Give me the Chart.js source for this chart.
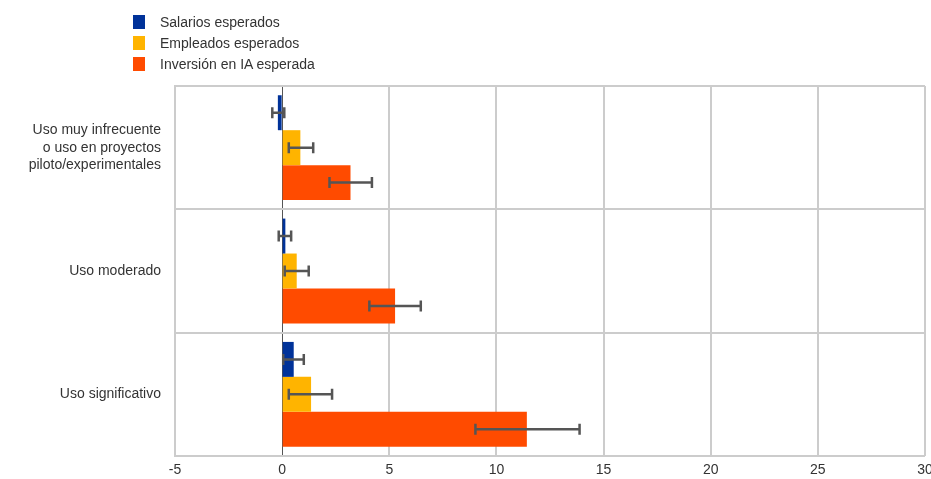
<!DOCTYPE html>
<html>
<head>
<meta charset="utf-8">
<script src="https://cdn.jsdelivr.net/npm/chart.js@4/dist/chart.umd.min.js"></script>
<style>
    body { margin: 0; background: #fff; font-family: "Liberation Sans", Arial, sans-serif; }
    #wrap { position: relative; width: 931px; height: 479px; }
    #legend { position: absolute; left: 133px; top: 12px; font-size: 14px; color: #333; }
    .item { height: 21px; line-height: 21px; white-space: nowrap; }
    .box { display: inline-block; width: 12px; height: 14px; vertical-align: -2px; margin-right: 15px; }
</style>
</head>
<body>
<div id="wrap">
    <canvas id="chart" width="931" height="479"></canvas>
    <div id="legend"></div>
</div>
<script>
// Categories and series
const categories = [
    ['Uso muy infrecuente', 'o uso en proyectos', 'piloto/experimentales'],
    'Uso moderado',
    'Uso significativo'
];
const seriesNames = ['Salarios esperados', 'Empleados esperados', 'Inversión en IA esperada'];
const seriesColors = ['#003299', '#FFB400', '#FF4B00'];

const salarios = [-0.2, 0.15, 0.54];
const empleados = [0.85, 0.68, 1.35];
const inversion = [3.19, 5.27, 11.42];

// Error bar centres and half widths
const salariosErrCenter = [-0.18, 0.13, 0.53];
const salariosErr = [0.28, 0.29, 0.48];
const empleadosErrCenter = [0.88, 0.68, 1.32];
const empleadosErr = [0.57, 0.56, 1.01];
const inversionErrCenter = [3.2, 5.27, 11.45];
const inversionErr = [0.99, 1.2, 2.43];

const xTicks = [-5, 0, 5, 10, 15, 20, 25, 30];

const seriesValues = [salarios, empleados, inversion];
const errCenters = [salariosErrCenter, empleadosErrCenter, inversionErrCenter];
const errHalf = [salariosErr, empleadosErr, inversionErr];

// Legend
const legendEl = document.getElementById('legend');
seriesNames.forEach((name, i) => {
    const row = document.createElement('div');
    row.className = 'item';
    row.innerHTML = '<span class="box" style="background:' + seriesColors[i] + '"></span>' + name;
    legendEl.appendChild(row);
});

// Error bars plugin
const errorBars = {
    id: 'errorBars',
    afterDatasetsDraw(chart) {
        const ctx = chart.ctx;
        const xScale = chart.scales.x;
        ctx.save();
        ctx.strokeStyle = '#555';
        ctx.lineWidth = 2.5;
        chart.data.datasets.forEach((ds, di) => {
            const meta = chart.getDatasetMeta(di);
            meta.data.forEach((bar, i) => {
                const c = errCenters[di][i];
                const h = errHalf[di][i];
                const x1 = xScale.getPixelForValue(c - h);
                const x2 = xScale.getPixelForValue(c + h);
                const y = bar.y;
                ctx.beginPath();
                ctx.moveTo(x1, y); ctx.lineTo(x2, y);
                ctx.moveTo(x1, y - 5.5); ctx.lineTo(x1, y + 5.5);
                ctx.moveTo(x2, y - 5.5); ctx.lineTo(x2, y + 5.5);
                ctx.stroke();
            });
        });
        ctx.restore();
    }
};

const ctx = document.getElementById('chart').getContext('2d');

new Chart(ctx, {
    type: 'bar',
    data: {
        labels: categories,
        datasets: seriesNames.map((name, i) => ({
            label: name,
            data: seriesValues[i],
            backgroundColor: seriesColors[i],
            borderWidth: 0,
            categoryPercentage: 0.85,
            barPercentage: 1.0
        }))
    },
    plugins: [errorBars],
    options: {
        indexAxis: 'y',
        responsive: false,
        animation: false,
        layout: { padding: { top: 86, right: 6, left: 0, bottom: 0 } },
        plugins: {
            legend: { display: false },
            tooltip: { enabled: false }
        },
        scales: {
            x: {
                min: -5,
                max: 30,
                afterBuildTicks: function(scale) {
                    scale.ticks = xTicks.map(v => ({ value: v }));
                },
                afterFit: function(scale) {
                    scale.height = 23;
                    scale.paddingRight = 0;
                    scale.paddingLeft = 0;
                },
                grid: {
                    color: c => (c.tick && c.tick.value === 0) ? '#555' : '#cccccc',
                    lineWidth: c => (c.tick && c.tick.value === 0) ? 1 : 2,
                    drawTicks: false
                },
                border: { display: false },
                ticks: {
                    color: '#333',
                    font: { family: 'Liberation Sans', size: 14 },
                    padding: 6,
                    maxRotation: 0
                }
            },
            y: {
                afterFit: function(scale) {
                    scale.width = 175;
                    scale.paddingTop = 0;
                    scale.paddingBottom = 0;
                },
                grid: {
                    color: '#cccccc',
                    lineWidth: 2,
                    drawTicks: false
                },
                border: { color: '#cccccc', width: 2 },
                ticks: {
                    color: '#333',
                    font: { family: 'Liberation Sans', size: 14, lineHeight: 1.25 },
                    padding: 14
                }
            }
        }
    }
});
</script>
</body>
</html>
